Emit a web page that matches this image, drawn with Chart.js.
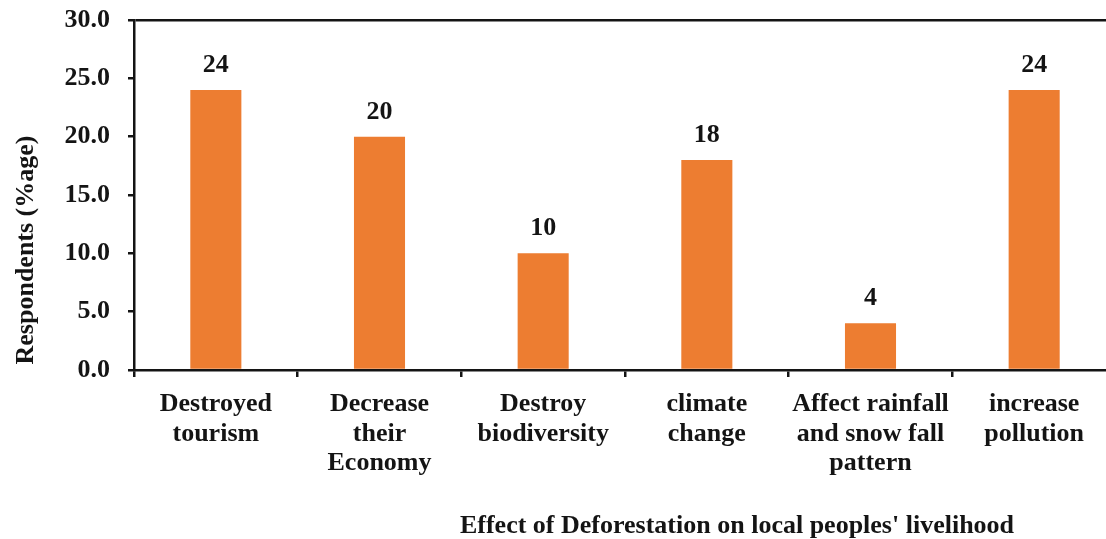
<!DOCTYPE html>
<html>
<head>
<meta charset="utf-8">
<script src="https://cdn.jsdelivr.net/npm/chart.js@4.4.1/dist/chart.umd.min.js"></script>
<style>
  html, body { margin: 0; padding: 0; background: #fff; overflow: hidden; }
  #wrap { position: absolute; left: 0; top: 0; width: 1120px; height: 539px; }
</style>
</head>
<body>
<div id="wrap"><canvas id="chart"></canvas></div>
<script>
// Effects of deforestation reported by respondents (% of respondents)
const categories = [
  ['Destroyed', 'tourism'],
  ['Decrease', 'their', 'Economy'],
  ['Destroy', 'biodiversity'],
  ['climate', 'change'],
  ['Affect rainfall', 'and snow fall', 'pattern'],
  ['increase', 'pollution']
];
const respondents = [24, 20, 10, 18, 4, 24];
const yTicks = [0, 5, 10, 15, 20, 25, 30];
const yTitle = 'Respondents (%age)';
const xTitle = "Effect of Deforestation on local peoples' livelihood";

const FONT = '"Liberation Serif", "Times New Roman", serif';
const INK = '#141414';
const BAR = '#ED7D31';

// Numbers printed above each bar
const valueLabels = {
  id: 'valueLabels',
  afterDatasetsDraw(chart) {
    const ctx = chart.ctx;
    const meta = chart.getDatasetMeta(0);
    ctx.save();
    ctx.font = 'bold 26px ' + FONT;
    ctx.fillStyle = INK;
    ctx.textAlign = 'center';
    ctx.textBaseline = 'alphabetic';
    meta.data.forEach((bar, i) => {
      ctx.fillText(String(respondents[i]), bar.x, bar.y - 18);
    });
    ctx.restore();
  }
};

// Axis titles
const axisTitles = {
  id: 'axisTitles',
  afterDraw(chart) {
    const ctx = chart.ctx;
    ctx.save();
    ctx.font = 'bold 26px ' + FONT;
    ctx.fillStyle = INK;
    ctx.textAlign = 'center';
    ctx.textBaseline = 'alphabetic';
    ctx.fillText(xTitle, 737, 533);
    ctx.translate(33, 250);
    ctx.rotate(-Math.PI / 2);
    ctx.fillText(yTitle, 0, 0);
    ctx.restore();
  }
};

new Chart(document.getElementById('chart'), {
  type: 'bar',
  data: {
    labels: categories,
    datasets: [{
      data: respondents,
      backgroundColor: BAR,
      borderWidth: 0,
      categoryPercentage: 1,
      barPercentage: 0.312
    }]
  },
  options: {
    responsive: true,
    maintainAspectRatio: false,
    animation: false,
    layout: { padding: { top: 20, right: 4, bottom: 0, left: 0 } },
    plugins: {
      legend: { display: false },
      tooltip: { enabled: false }
    },
    scales: {
      x: {
        offset: true,
        grid: {
          offset: true,
          drawOnChartArea: false,
          drawTicks: true,
          tickLength: 7,
          tickColor: INK,
          lineWidth: 2.5
        },
        border: { display: true, color: INK, width: 2.5 },
        ticks: {
          color: INK,
          padding: 12,
          maxRotation: 0,
          autoSkip: false,
          font: { family: FONT, size: 26, weight: 'bold', lineHeight: 1.15 }
        },
        afterFit(scale) {
          scale.height = 169;
          scale.paddingLeft = 0;
          scale.paddingRight = 0;
        }
      },
      y: {
        min: 0,
        max: 30,
        afterBuildTicks(scale) { scale.ticks = yTicks.map(v => ({ value: v })); },
        grid: {
          drawTicks: true,
          tickLength: 6,
          tickColor: INK,
          lineWidth: 2.5,
          color: (c) => (c.tick && c.tick.value === 30 ? INK : 'rgba(0,0,0,0)')
        },
        border: { display: true, color: INK, width: 2.5 },
        ticks: {
          color: INK,
          padding: 18,
          callback: (v) => Number(v).toFixed(1),
          font: { family: FONT, size: 26, weight: 'bold' }
        },
        afterFit(scale) {
          scale.width = 134;
          scale.paddingTop = 0;
          scale.paddingBottom = 0;
        }
      }
    }
  },
  plugins: [valueLabels, axisTitles]
});
</script>
</body>
</html>
